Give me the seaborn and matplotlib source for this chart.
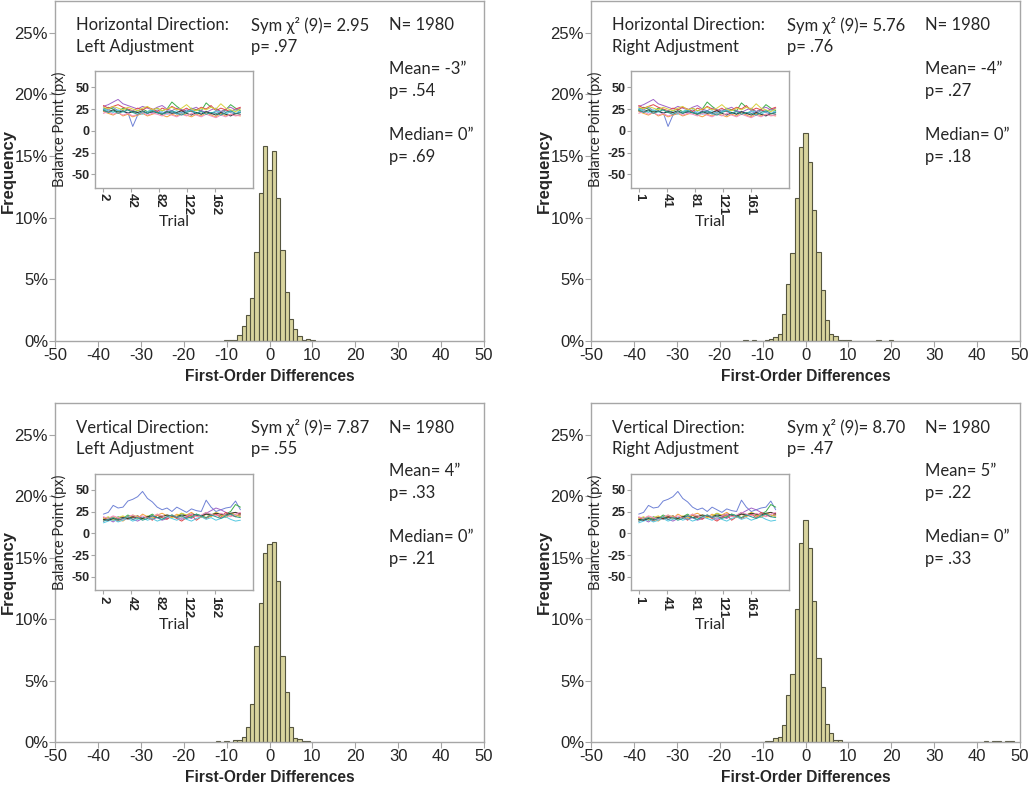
import numpy as np
import pandas as pd
import matplotlib
matplotlib.use("Agg")
import matplotlib.pyplot as plt
import seaborn as sns

sns.set_style("white")
plt.rcParams['font.family'] = ['Liberation Sans', 'DejaVu Sans']
plt.rcParams['axes.unicode_minus'] = False
TXT_FONT = ['Lato', 'Open Sans', 'DejaVu Sans']

# ---- histogram data: bin centre (first-order difference) -> percent of N ----
hl_x = [-10, -9, -8, -7, -6, -5, -4, -3, -2, -1, 0, 1, 2, 3, 4, 5, 6, 7, 8, 9, 10]
hl_pct = [0.1, 0.05, 0.1, 0.5, 1.2, 2.1, 3.5, 7.2, 12.0, 15.8, 13.9, 15.4, 11.6, 7.4, 4.0, 1.8, 1.0, 0.4, 0.1, 0.15, 0.05]

hr_x = [-14, -12, -9, -8, -7, -6, -5, -4, -3, -2, -1, 0, 1, 2, 3, 4, 5, 6, 7, 8, 9, 10, 17, 20]
hr_pct = [0.05, 0.05, 0.05, 0.15, 0.3, 0.6, 2.2, 4.6, 7.1, 11.6, 15.7, 16.9, 14.5, 10.6, 7.2, 4.1, 1.7, 0.6, 0.4, 0.1, 0.05, 0.1, 0.05, 0.05]

vl_x = [-12, -10, -8, -7, -6, -5, -4, -3, -2, -1, 0, 1, 2, 3, 4, 5, 6, 7, 8, 9]
vl_pct = [0.05, 0.1, 0.15, 0.2, 0.4, 1.2, 3.1, 7.8, 11.3, 15.4, 16.1, 16.3, 13.1, 7.0, 4.1, 1.2, 0.3, 0.27, 0.1, 0.05]

vr_x = [-10, -9, -8, -7, -6, -5, -4, -3, -2, -1, 0, 1, 2, 3, 4, 5, 6, 7, 8, 42, 44, 45, 47, 48]
vr_pct = [0.03, 0.05, 0.08, 0.35, 0.43, 1.4, 3.8, 5.5, 10.8, 16.2, 18.1, 15.8, 11.5, 6.8, 4.5, 1.5, 0.7, 0.16, 0.16, 0.05, 0.05, 0.05, 0.05, 0.05]

# ---- inset data: balance point per trial (every 7th trial), 10 participants ----
trials = list(range(2, 200, 7))

h_blue = [26, 24, 27, 23, 22, 21, 5, 18, 20, 22, 21, 24, 20, 23, 22, 19, 21, 24, 22, 20, 23, 21, 19, 22, 20, 23, 21, 19, 22]
h_purple = [28, 30, 33, 36, 31, 29, 27, 25, 28, 26, 24, 27, 29, 25, 23, 26, 24, 22, 25, 27, 23, 21, 24, 26, 22, 25, 27, 24, 26]
h_green = [24, 27, 25, 22, 26, 24, 21, 23, 25, 22, 24, 26, 23, 25, 33, 28, 24, 22, 26, 24, 23, 32, 27, 25, 22, 24, 30, 26, 23]
h_red = [29, 26, 28, 30, 27, 25, 23, 26, 24, 27, 25, 22, 26, 24, 28, 25, 23, 26, 22, 24, 27, 25, 29, 23, 26, 24, 22, 25, 27]
h_orange = [22, 20, 18, 21, 17, 19, 16, 18, 20, 17, 19, 21, 18, 16, 19, 17, 20, 18, 16, 19, 17, 21, 18, 16, 20, 17, 19, 18, 17]
h_cyan = [25, 23, 21, 24, 22, 20, 23, 21, 19, 22, 24, 20, 22, 19, 21, 23, 20, 22, 24, 21, 19, 22, 20, 23, 21, 19, 22, 24, 21]
h_yellow = [27, 25, 28, 26, 24, 27, 25, 23, 26, 28, 24, 26, 23, 25, 27, 24, 26, 30, 25, 23, 26, 24, 27, 25, 31, 26, 24, 22, 25]
h_black = [23, 22, 24, 21, 23, 20, 22, 21, 23, 20, 22, 21, 19, 22, 20, 21, 23, 20, 18, 21, 19, 22, 20, 18, 21, 19, 17, 20, 19]
h_pink = [20, 22, 19, 21, 18, 20, 17, 19, 21, 18, 20, 19, 17, 20, 18, 16, 19, 17, 20, 18, 16, 19, 17, 15, 18, 16, 19, 17, 18]
h_teal = [24, 21, 23, 20, 22, 24, 21, 19, 22, 20, 23, 21, 19, 21, 23, 20, 18, 21, 23, 20, 22, 19, 21, 20, 18, 21, 23, 20, 21]

v_blue = [22, 24, 32, 29, 30, 37, 39, 42, 48, 40, 36, 30, 27, 29, 25, 30, 27, 24, 28, 26, 25, 38, 30, 25, 27, 29, 30, 37, 27]
v_green = [16, 18, 15, 19, 17, 21, 18, 20, 17, 19, 22, 18, 20, 17, 21, 19, 23, 20, 18, 22, 20, 24, 21, 23, 20, 22, 25, 33, 30]
v_purple = [14, 16, 13, 17, 15, 18, 16, 14, 17, 19, 16, 18, 15, 17, 20, 18, 16, 19, 17, 21, 19, 23, 26, 29, 27, 24, 22, 21, 20]
v_red = [18, 15, 17, 14, 19, 16, 18, 20, 17, 19, 15, 21, 18, 16, 20, 17, 14, 18, 21, 15, 19, 17, 20, 22, 18, 24, 21, 19, 23]
v_orange = [15, 17, 19, 16, 14, 18, 20, 17, 22, 19, 17, 21, 23, 20, 18, 22, 19, 21, 24, 20, 18, 22, 19, 23, 21, 18, 22, 24, 21]
v_cyan = [12, 14, 16, 13, 15, 17, 14, 16, 18, 15, 17, 14, 16, 19, 17, 15, 18, 16, 14, 17, 19, 16, 18, 15, 17, 19, 16, 14, 15]
v_yellow = [17, 19, 16, 18, 20, 17, 21, 19, 16, 20, 18, 22, 19, 21, 18, 20, 23, 21, 19, 22, 20, 18, 21, 24, 22, 20, 23, 21, 19]
v_black = [16, 15, 17, 16, 18, 17, 19, 18, 17, 19, 20, 18, 19, 21, 20, 19, 21, 20, 22, 21, 20, 22, 21, 23, 22, 21, 23, 24, 22]
v_pink = [19, 17, 20, 18, 16, 19, 21, 18, 20, 17, 19, 22, 20, 18, 21, 19, 17, 20, 22, 19, 21, 24, 22, 20, 23, 21, 19, 22, 24]
v_teal = [14, 16, 18, 15, 17, 19, 16, 18, 15, 17, 20, 18, 16, 19, 21, 18, 20, 17, 19, 22, 20, 18, 21, 19, 17, 20, 22, 19, 18]

line_colors = ['#6f82d6', '#3fae4a', '#a064c8', '#e0474c', '#f5a03c',
               '#55c8e0', '#d8d040', '#333333', '#f08cc0', '#2a9d8f']

h_set = [h_blue, h_green, h_purple, h_red, h_orange, h_cyan, h_yellow, h_black, h_pink, h_teal]
v_set = [v_blue, v_green, v_purple, v_red, v_orange, v_cyan, v_yellow, v_black, v_pink, v_teal]

panels = [
    dict(x=hl_x, pct=hl_pct, lines=h_set, t0=2, dir="Horizontal Direction:", adj="Left Adjustment",
         chi="2.95", p1=".97", mean="-3", p2=".54", med="0", p3=".69"),
    dict(x=hr_x, pct=hr_pct, lines=h_set, t0=1, dir="Horizontal Direction:", adj="Right Adjustment",
         chi="5.76", p1=".76", mean="-4", p2=".27", med="0", p3=".18"),
    dict(x=vl_x, pct=vl_pct, lines=v_set, t0=2, dir="Vertical Direction:", adj="Left Adjustment",
         chi="7.87", p1=".55", mean="4", p2=".33", med="0", p3=".21"),
    dict(x=vr_x, pct=vr_pct, lines=v_set, t0=1, dir="Vertical Direction:", adj="Right Adjustment",
         chi="8.70", p1=".47", mean="5", p2=".22", med="0", p3=".33"),
]

W, H = 1028, 790
fig = plt.figure(figsize=(W / 100, H / 100), dpi=100)

# axes boxes in pixels: left, top, right, bottom
boxes = [(55, 0.5, 484, 341), (591, 0.5, 1020, 341), (55, 403, 484, 742), (591, 403, 1020, 742)]
frame_col = '#a6a6a6'

for pnl, (l, t, r, b) in zip(panels, boxes):
    ax = fig.add_axes([l / W, 1 - b / H, (r - l) / W, (b - t) / H])
    sns.histplot(x=pnl['x'], weights=pnl['pct'], discrete=True, ax=ax,
                 color='#d9d49e', edgecolor='#55553f', linewidth=0.8, alpha=1)
    ax.set_xlim(-50, 50)
    ax.set_ylim(0, 27.6)
    ax.set_xticks(range(-50, 51, 10))
    ax.set_yticks(range(0, 26, 5))
    ax.set_yticklabels([f"{v}%" for v in range(0, 26, 5)])
    ax.tick_params(axis='both', labelsize=12, length=4, color=frame_col, width=0.8,
                   direction='out', bottom=True, left=True, pad=1)
    for s in ax.spines.values():
        s.set_color(frame_col)
        s.set_linewidth(1.0)
    ax.set_xlabel("First-Order Differences", fontsize=11.2, fontweight='bold', labelpad=4)
    ax.set_ylabel("")
    fig.text((l - 47) / W, 1 - (t + b) / 2 / H, "Frequency", rotation=90,
             ha='center', va='center', fontsize=12, fontweight='bold')

    tk = dict(transform=ax.transAxes, fontsize=12, family=TXT_FONT, va='center', ha='left')
    ax.text(0.049, 0.927, pnl['dir'], **tk)
    ax.text(0.049, 0.863, pnl['adj'], **tk)
    ax.text(0.457, 0.927, f"Sym χ² (9)= {pnl['chi']}", **tk)
    ax.text(0.457, 0.863, f"p= {pnl['p1']}", **tk)
    ax.text(0.779, 0.927, "N= 1980", **tk)
    ax.text(0.779, 0.800, f"Mean= {pnl['mean']}\u201d", **tk)
    ax.text(0.779, 0.734, f"p= {pnl['p2']}", **tk)
    ax.text(0.779, 0.605, f"Median= {pnl['med']}\u201d", **tk)
    ax.text(0.779, 0.541, f"p= {pnl['p3']}", **tk)

    # inset with balance point traces
    il, it = l + 40, t + 71
    inset = fig.add_axes([il / W, 1 - (it + 116) / H, 158 / W, 116 / H])
    rows = []
    for k, ser in enumerate(pnl['lines']):
        for tr, v in zip(trials, ser):
            rows.append((k, tr - 2 + pnl['t0'], v))
    df = pd.DataFrame(rows, columns=['subject', 'trial', 'bp'])
    sns.lineplot(data=df, x='trial', y='bp', hue='subject', palette=line_colors,
                 legend=False, linewidth=0.7, ax=inset)
    inset.set_xlim(-10, 216)
    inset.set_ylim(-65, 68)
    ticks = [pnl['t0'] + 40 * i for i in range(5)]
    inset.set_xticks(ticks)
    inset.set_xticklabels([str(v) for v in ticks], rotation=-90, fontweight='bold', fontsize=9.5)
    inset.set_yticks([50, 25, 0, -25, -50])
    inset.set_yticklabels(['50', '25', '0', '-25', '-50'], fontweight='bold', fontsize=9)
    inset.tick_params(axis='both', length=3, color=frame_col, width=0.8, pad=1,
                      bottom=True, left=True)
    for s in inset.spines.values():
        s.set_color(frame_col)
        s.set_linewidth(1.0)
    inset.set_xlabel("Trial", fontsize=11.5, family=TXT_FONT, labelpad=0)
    inset.set_ylabel("Balance Point (px)", fontsize=10.5, family=TXT_FONT, labelpad=3)

fig.savefig("out.png", dpi=100)
